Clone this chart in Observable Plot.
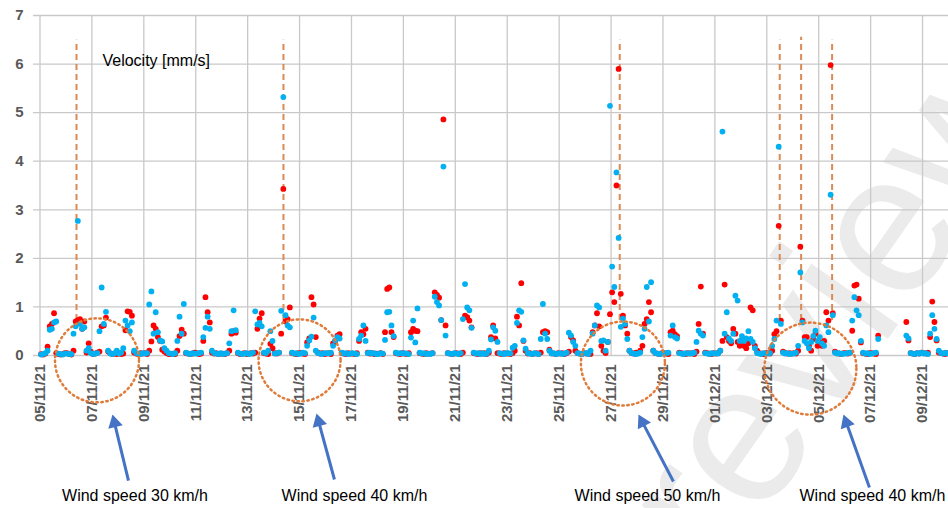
<!DOCTYPE html>
<html>
<head>
<meta charset="utf-8">
<script src="https://cdn.jsdelivr.net/npm/d3@7"></script>
<script src="https://cdn.jsdelivr.net/npm/@observablehq/plot@0.6"></script>
<style>
  html, body { margin: 0; padding: 0; background: #fff; }
  #chart svg { display: block; overflow: visible; }
</style>
</head>
<body>
<div id="chart"></div>
<script>
// ---- data ----
const slotHours = [1, 3, 5, 7, 9, 11, 13, 15, 17, 19, 21, 23];
const tickDates = ["2021-11-05","2021-11-07","2021-11-09","2021-11-11","2021-11-13","2021-11-15",
  "2021-11-17","2021-11-19","2021-11-21","2021-11-23","2021-11-25","2021-11-27","2021-11-29",
  "2021-12-01","2021-12-03","2021-12-05","2021-12-07","2021-12-09"];
const yTicks = [0, 1, 2, 3, 4, 5, 6, 7];

// one row per day (05/11/21 ... 09/12/21), one value per 2-hour slot
const redSeries = [
  [.03,.02,.04,.18,.6,.65,.87,.05,.03,.02,.03,.05],
  [.05,.03,.02,.1,.7,.73,.75,.55,.7,.06,.25,.08],
  [.03,.04,.06,.08,.6,.62,.78,.08,.05,.03,.04,.03],
  [.05,.03,.04,.52,.91,.9,.82,.06,.04,.03,.05,.04],
  [.05,.03,.1,.29,.62,.55,.38,.3,.12,.08,.05,.03],
  [.03,.04,.03,.1,.4,.53,.45,.05,.04,.03,.04,.06],
  [.05,.03,.04,.3,1.2,.89,.68,.06,.04,.05,.03,.04],
  [.04,.03,.05,.1,.45,.5,.47,.05,.03,.04,.05,.03],
  [.04,.05,.04,.06,.55,.76,.87,.05,.04,.03,.24,.15],
  [.05,.04,.06,.45,3.43,.7,.75,.99,.05,.04,.03,.05],
  [.05,.04,.03,.27,.35,1.2,1.05,.38,.06,.04,.05,.03],
  [.04,.05,.03,.25,.3,.41,.44,.05,.04,.03,.05,.04],
  [.04,.03,.05,.3,.48,.44,.55,.06,.04,.05,.03,.04],
  [.04,.05,.03,.48,1.37,1.4,.48,.38,.05,.04,.03,.05],
  [.04,.03,.05,.48,.55,.51,.5,.05,.04,.03,.05,.04],
  [.04,.05,1.3,1.25,1.19,.73,4.86,.62,.05,.04,.03,.04],
  [.05,.04,.03,.06,.82,.79,.72,.58,.05,.04,.03,.05],
  [.04,.05,.03,.06,.38,.62,.35,.05,.04,.03,.05,.04],
  [.04,.03,.05,.1,.8,.62,1.49,.3,.1,.04,.05,.03],
  [.04,.05,.03,.06,.48,.5,.48,.12,.05,.04,.03,.05],
  [.04,.05,.03,.05,.08,.38,.31,.1,.05,.04,.03,.05],
  [.04,.05,.03,.48,.62,.87,.6,.2,.1,.05,.28,.85],
  [1.3,1.1,3.5,5.9,1.27,.82,.62,.45,.1,.05,.04,.06],
  [.05,.1,.2,.65,.75,1.1,.89,.1,.05,.04,.03,.05],
  [.05,.04,.03,.48,.51,.44,.4,.06,.05,.04,.03,.05],
  [.04,.05,.03,.08,.65,1.42,.45,.06,.05,.04,.03,.05],
  [.04,.05,.1,.3,1.46,.38,.3,.25,.55,.45,.28,.2],
  [.3,.2,.15,.25,.99,.93,.2,.1,.05,.04,.03,.05],
  [.05,.04,.1,.44,.5,2.67,.72,.08,.05,.04,.05,.04],
  [.05,.04,.1,2.24,.72,.38,.38,.2,.1,.34,.45,.2],
  [.27,.2,.3,.89,.72,5.98,.87,.08,.05,.04,.03,.05],
  [.05,.04,.06,.51,1.44,1.46,1.17,.27,.05,.04,.03,.05],
  [.05,.04,.03,.41,null,null,null,null,null,null,null,null],
  [null,null,null,null,.69,.31,.05,.04,.03,.05,.04,.06],
  [.05,.04,.06,.38,1.11,.69,.31,.06,.05,.04,.03,.05]
];
const blueSeries = [
  [.02,.03,.05,.1,.53,.55,.68,.7,.04,.03,.02,.04],
  [.04,.03,.03,.45,.6,2.77,.65,.55,.58,.1,.15,.05],
  [.03,.04,.05,.5,1.4,.65,.9,.1,.04,.03,.05,.1],
  [.04,.06,.15,.72,.62,.5,.68,.1,.05,.04,.03,.05],
  [.04,.05,1.05,1.32,.45,.89,.48,.31,.29,.15,.1,.05],
  [.04,.03,.05,.3,.8,.45,1.06,.06,.04,.03,.05,.04],
  [.04,.05,.06,.38,.57,.8,.55,.1,.05,.04,.03,.05],
  [.03,.04,.05,.25,.5,.93,.52,.06,.04,.03,.04,.05],
  [.03,.04,.06,.91,.64,.67,.6,.06,.05,.1,.5,.3],
  [.04,.05,.06,.92,5.32,.83,.62,.58,.06,.04,.05,.03],
  [.04,.06,.05,.2,.31,.39,.78,.1,.05,.04,.03,.05],
  [.05,.04,.06,.2,.31,.38,.35,.06,.04,.05,.03,.04],
  [.05,.04,.03,.34,.41,.62,.3,.05,.06,.04,.05,.03],
  [.03,.05,.04,.32,.89,.9,.62,.4,.06,.04,.05,.04],
  [.05,.04,.03,.37,.72,.27,.97,.06,.04,.05,.03,.04],
  [.03,.05,1.21,1.1,1.03,.73,3.89,.41,.05,.04,.03,.05],
  [.04,.03,.05,.75,1.47,.99,.93,.57,.06,.04,.05,.03],
  [.05,.03,.04,.1,.33,.58,.51,.28,.05,.04,.03,.05],
  [.05,.04,.16,.2,.67,.93,.9,.31,.14,.05,.04,.03],
  [.05,.04,.03,.34,1.06,.45,.34,.1,.04,.05,.03,.04],
  [.05,.03,.04,.06,.47,.41,.28,.2,.05,.04,.03,.05],
  [.05,.03,.1,.45,.62,1.03,.99,.3,.31,.1,.28,5.14],
  [1.83,1.41,3.77,2.42,.59,.76,.65,.34,.1,.05,.04,.03],
  [.04,.06,.38,.55,1.41,.7,1.51,.1,.05,.04,.03,.04],
  [.04,.05,.06,.41,.62,.38,.35,.05,.04,.03,.05,.04],
  [.05,.04,.06,.28,.51,.45,.41,.05,.04,.03,.05,.04],
  [.05,.04,.1,4.61,.45,.89,.35,.3,.45,1.23,1.13,.3],
  [.4,.3,.35,.5,.34,.28,.15,.05,.04,.03,.05,.04],
  [.04,.05,.2,.34,.72,4.3,.65,.06,.04,.05,.03,.04],
  [.04,.06,.2,1.71,.68,.3,.25,.15,.28,.4,.51,.3],
  [.38,.25,.2,.62,.48,3.31,.83,.06,.04,.05,.03,.04],
  [.04,.05,.06,.72,1.2,.93,.83,.3,.06,.04,.05,.03],
  [.04,.05,.06,.34,null,null,null,null,null,null,null,null],
  [null,null,null,null,.41,.35,.05,.04,.03,.05,.04,.06],
  [.04,.05,.03,.45,.83,.55,.34,.1,.05,.04,.06,.04]
];

// annotations
const windowLines = ["2021-11-06T09:45Z","2021-11-14T09:07Z","2021-11-27T08:01Z","2021-12-03T11:57Z","2021-12-04T07:44Z","2021-12-05T12:23Z"];
const windowLineTop = [6.49, 6.49, 6.49, 6.49, 6.55, 6.49];
const circleTimes = ["2021-11-07T04:42Z","2021-11-15T00:00Z","2021-11-27T10:58Z","2021-12-04T16:19Z"];
const circleValues = [-0.10, -0.10, -0.165, -0.27];
const circleRadii = [42, 41, 42, 46];
const arrowFromTimes = ["2021-11-08T09:49Z","2021-11-16T08:15Z","2021-11-29T09:40Z","2021-12-06T22:54Z"];
const arrowFromValues = [-2.574, -2.553, -2.594, -2.718];
const arrowToTimes = ["2021-11-07T19:02Z","2021-11-15T15:38Z","2021-11-28T01:19Z","2021-12-05T22:52Z"];
const arrowToValues = [-1.215, -1.194, -1.215, -1.215];
const windLabels = ["Wind speed 30 km/h","Wind speed 40 km/h","Wind speed 50 km/h","Wind speed 40 km/h"];
const windLabelTimes = ["2021-11-08T15:49Z","2021-11-17T02:45Z","2021-11-28T09:39Z","2021-12-07T01:39Z"];
const windLabelValue = -2.90;
const seriesLabel = "Velocity [mm/s]";
const seriesLabelTime = "2021-11-07T09:46Z";
const seriesLabelValue = 6.07;
const watermark = "review";
const watermarkTime = "2021-11-29T05:00Z";
const watermarkValue = -3.81;

// ---- build tables ----
function toPoints(rows) {
  const out = [];
  rows.forEach((row, d) => row.forEach((v, k) => {
    if (v == null) return;
    out.push({t: new Date(Date.UTC(2021, 10, 5 + d, slotHours[k])), v});
  }));
  return out;
}
const red = toPoints(redSeries);
const blue = toPoints(blueSeries);
const lines = windowLines.map((t, i) => ({t: new Date(t), top: windowLineTop[i]}));
const circles = circleTimes.map((t, i) => ({t: new Date(t), v: circleValues[i], r: circleRadii[i]}));
const arrows = arrowFromTimes.map((t, i) => ({x1: new Date(t), y1: arrowFromValues[i], x2: new Date(arrowToTimes[i]), y2: arrowToValues[i]}));
const labels = windLabels.map((s, i) => ({t: new Date(windLabelTimes[i]), v: windLabelValue, s}));
const ticks = tickDates.map(s => new Date(s + "T00:00Z"));

const W = 948, H = 508, ML = 33, MR = 0, MT = 15, MB = 153;
const xDomain = [new Date("2021-11-04T18:00Z"), new Date("2021-12-10T00:00Z")];
const yDomain = [0, 7];

// arrow heads: filled triangles oriented along each arrow (orientation from the same scale mapping)
const sx = d3.scaleUtc(xDomain, [ML, W - MR]);
const sy = d3.scaleLinear(yDomain, [H - MB, MT]);
const headR = 5.5;
const tipBack = 8.6;
const heads = arrows.map(a => {
  const dx = sx(a.x2) - sx(a.x1), dy = sy(a.y2) - sy(a.y1);
  const k = tipBack / Math.hypot(dx, dy);
  return {t: new Date(+a.x2 + (+a.x1 - +a.x2) * k), v: a.y2 + (a.y1 - a.y2) * k,
          angle: Math.atan2(dx, -dy) * 180 / Math.PI};
});
const shafts = arrows.map((a, i) => ({x1: a.x1, y1: a.y1, x2: heads[i].t, y2: heads[i].v}));

const font = "'Liberation Sans', Arial, sans-serif";
const grid = "#c9c9c9";

const chart = Plot.plot({
  width: W,
  height: H,
  marginLeft: ML,
  marginRight: MR,
  marginTop: MT,
  marginBottom: MB,
  style: {fontFamily: font, fontSize: "15px", fontWeight: "bold", color: "#595959", background: "#fff", overflow: "visible"},
  x: {type: "utc", domain: xDomain, ticks, tickFormat: d3.utcFormat("%d/%m/%y"),
      tickRotate: -90, tickSize: 0, tickPadding: 9, label: null},
  y: {domain: yDomain, ticks: yTicks, tickFormat: d3.format("d"), tickSize: 0, tickPadding: 10, label: null},
  marks: [
    Plot.text([watermark], {x: () => new Date(watermarkTime), y: () => watermarkValue, text: d => d, rotate: -55,
      textAnchor: "start", fontSize: 200, fontWeight: "normal", fill: "#ebebeb", fontFamily: font}),
    Plot.ruleY(yTicks, {stroke: grid, strokeWidth: 1.3}),
    Plot.ruleX(ticks, {stroke: grid, strokeWidth: 1.3}),
    Plot.ruleX(lines, {x: "t", y1: 0.72, y2: "top", stroke: "#dc8a55", strokeWidth: 2, strokeDasharray: "6 4"}),
    Plot.dot(red, {x: "t", y: "v", r: 2.9, fill: "#ff0000"}),
    Plot.dot(blue, {x: "t", y: "v", r: 2.9, fill: "#00b0f0"}),
    ...circles.map(c => Plot.dot([c], {x: "t", y: "v", r: c.r, fill: "none", stroke: "#e07b39", strokeWidth: 2.5, strokeDasharray: "1.5 3.5", strokeLinecap: "round"})),
    Plot.link(shafts, {x1: "x1", y1: "y1", x2: "x2", y2: "y2", stroke: "#4472c4", strokeWidth: 3}),
    Plot.dot(heads, {x: "t", y: "v", symbol: "triangle", r: headR, fill: "#4472c4", rotate: "angle"}),
    Plot.text(labels, {x: "t", y: "v", text: "s", fill: "#000", fontWeight: "normal", fontSize: 16, fontFamily: font}),
    Plot.text([seriesLabel], {x: () => new Date(seriesLabelTime), y: () => seriesLabelValue, text: d => d, textAnchor: "start",
      fill: "#000", fontWeight: "normal", fontSize: 16, fontFamily: font})
  ]
});
// keep the watermark behind the axes and grid
const wm = [...chart.querySelectorAll("g")].find(g => g.getAttribute("aria-label") === "text" && g.textContent === watermark);
const firstG = chart.querySelector("g");
if (wm && firstG) chart.insertBefore(wm, firstG);
document.getElementById("chart").appendChild(chart);
</script>
</body>
</html>
